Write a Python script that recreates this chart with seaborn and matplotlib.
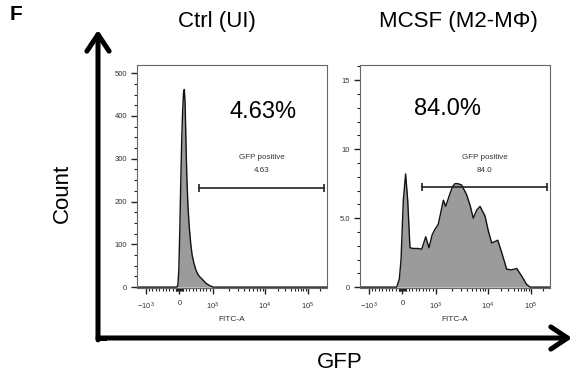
import numpy as np
import pandas as pd
import seaborn as sns
import matplotlib.pyplot as plt

sns.set_style("white")
plt.rcParams['font.family'] = ['Liberation Sans', 'DejaVu Sans']
plt.rcParams['text.color'] = 'black'
plt.rcParams['mathtext.fontset'] = 'custom'
plt.rcParams['mathtext.rm'] = 'Liberation Sans'
plt.rcParams['mathtext.it'] = 'Liberation Sans'

# FITC-A display channel (0-100 across the axis) and counts
ctrl_chan = [0, 21.0, 21.5, 22.0, 22.5, 23.0, 23.5, 24.0, 24.5, 24.9, 25.3, 25.7, 26.2,
             26.8, 27.5, 28.3, 29.0, 30.0, 31.0, 32.0, 33.0, 34.0, 35.0, 36.0, 37.0,
             38.0, 39.0, 40.0, 100]
ctrl_count = [0, 0, 5, 40, 130, 240, 340, 410, 455, 462, 430, 350, 260,
              190, 140, 100, 75, 55, 40, 30, 24, 20, 15, 10, 7,
              4, 2, 0, 0]

mcsf_chan = [0, 19.3, 20.7, 21.6, 22.8, 24.0, 25.1, 26.3, 28.1, 30.5, 32.5, 34.6,
             36.3, 38.0, 39.5, 41.2, 42.8, 43.9, 45.1, 47.4, 48.8, 50.0, 51.5, 53.5,
             55.0, 56.1, 58.0, 59.6, 61.5, 63.2, 65.8, 67.5, 69.3, 71.0, 72.5, 74.6,
             77.2, 79.8, 82.5, 85.1, 87.7, 89.5, 100]
mcsf_count = [0, 0, 0.58, 2.0, 6.3, 8.2, 6.3, 2.85, 2.8, 2.8, 2.75, 3.65,
              2.85, 3.8, 4.2, 4.55, 5.6, 6.3, 5.85, 6.8, 7.3, 7.5, 7.5, 7.4,
              7.0, 6.7, 5.9, 5.0, 5.6, 5.85, 5.15, 4.1, 3.2, 3.3, 3.4, 2.5,
              1.3, 1.25, 1.35, 0.8, 0.2, 0, 0]

titles = ["Ctrl (UI)", "MCSF (M2-M\u03a6)"]
percents = ["4.63%", "84.0%"]
gate_values = ["4.63", "84.0"]
gate_lo = [32.4, 32.8]
gate_hi = [98.6, 98.6]
gate_level = [232, 7.26]
y_max = [519, 16.1]
y_major = [[0, 100, 200, 300, 400, 500], [0, 5, 10, 15]]
y_labels = [["0", "100", "200", "300", "400", "500"], ["0", "5.0", "10", "15"]]
y_minor_step = [25, 1]

# axis anchors: fluorescence value -> display channel
x_tick_chan = [4.6, 22.3, 40.0, 67.3, 89.8]
x_tick_labels = [r"$-10^{3}$", "0", r"$10^{3}$", r"$10^{4}$", r"$10^{5}$"]


def minor_ticks():
    neg = np.linspace(x_tick_chan[0], x_tick_chan[1], 11)[1:-1]
    pos = np.linspace(x_tick_chan[1], x_tick_chan[2], 11)[1:-1]
    near0 = x_tick_chan[1] + np.array([-2, -1.5, -1, -0.5, 0.5, 1, 1.5, 2])
    lg = np.log10(np.arange(2, 10))
    d1 = x_tick_chan[2] + lg * (x_tick_chan[3] - x_tick_chan[2])
    d2 = x_tick_chan[3] + lg * (x_tick_chan[4] - x_tick_chan[3])
    d3 = x_tick_chan[4] + lg[:1] * (x_tick_chan[4] - x_tick_chan[3])
    return np.concatenate([neg, near0, pos, d1, d2, d3])


fig = plt.figure(figsize=(5.75, 3.77), dpi=100)
axes = [fig.add_axes([0.2383, 0.2361, 0.3304, 0.5915]),
        fig.add_axes([0.6261, 0.2361, 0.3304, 0.5915])]

data = [pd.DataFrame({"chan": ctrl_chan, "count": ctrl_count}),
        pd.DataFrame({"chan": mcsf_chan, "count": mcsf_count})]

for i, ax in enumerate(axes):
    df = data[i]
    ax.fill_between(df["chan"], df["count"], color="#9b9b9b", lw=0)
    sns.lineplot(data=df, x="chan", y="count", ax=ax, color="#111111", lw=1.0)
    ax.set_xlim(0, 100)
    ax.set_ylim(-0.004 * y_max[i], y_max[i])

    ax.set_xticks(x_tick_chan)
    ax.set_xticklabels(x_tick_labels)
    ax.set_xticks(minor_ticks(), minor=True)
    ax.set_yticks(y_major[i])
    ax.set_yticklabels(y_labels[i])
    ax.set_yticks(np.arange(0, y_max[i], y_minor_step[i]), minor=True)
    ax.tick_params(axis="both", which="major", direction="out", length=4, width=1,
                   labelsize=5.5, labelcolor="#333333", color="#222222",
                   bottom=True, left=True)
    ax.tick_params(axis="both", which="minor", direction="out", length=2.2, width=0.8,
                   color="#222222", bottom=True, left=True)
    ax.tick_params(axis="x", which="major", pad=5)
    ax.tick_params(axis="y", which="major", pad=3)
    for s in ax.spines.values():
        s.set_color("#666666")
        s.set_linewidth(0.8)
    ax.set_xlabel("FITC-A", fontsize=6, color="#333333", labelpad=3)
    ax.set_ylabel("")

    # gate
    ax.plot([gate_lo[i], gate_hi[i]], [gate_level[i]] * 2, color="#222222", lw=1.2)
    ax.plot([gate_lo[i], gate_hi[i]], [gate_level[i]] * 2, ls="none", marker="|",
            ms=6, mew=1.2, color="#222222")
    gx = (gate_lo[i] + gate_hi[i]) / 2
    ax.text(gx, 0.583, "GFP positive", transform=ax.get_xaxis_transform(),
            ha="center", va="center", fontsize=5.8, color="#333333")
    ax.text(gx, 0.526, gate_values[i], transform=ax.get_xaxis_transform(),
            ha="center", va="center", fontsize=5.8, color="#333333")

axes[0].text(0.663, 0.79, percents[0], transform=axes[0].transAxes,
             ha="center", va="center", fontsize=17, color="black")
axes[1].text(0.462, 0.803, percents[1], transform=axes[1].transAxes,
             ha="center", va="center", fontsize=17, color="black")

fig.text(0.377, 0.942, titles[0], ha="center", va="center", fontsize=16, color="black")
fig.text(0.797, 0.942, titles[1], ha="center", va="center", fontsize=16, color="black")
fig.text(0.028, 0.962, "F", ha="center", va="center", fontsize=15, fontweight="bold",
         color="black")
fig.text(0.108, 0.488, "Count", ha="center", va="center", fontsize=16, rotation=90,
         color="black")
fig.text(0.591, 0.038, "GFP", ha="center", va="center", fontsize=16, color="black")

# big axis arrows
x0, y0 = 98 / 575, 1 - 338 / 377
arrow = dict(arrowstyle="->,head_length=0.6,head_width=0.4", lw=3.6, color="black",
             mutation_scale=20, shrinkA=0, shrinkB=0)
fig.add_artist(plt.Line2D([x0, x0 + 0.01], [y0, y0], lw=3.6, color="black",
                          solid_capstyle="projecting", transform=fig.transFigure))
plt.annotate("", xy=(x0, 1 - 30 / 377), xytext=(x0, y0 - 0.005),
             xycoords="figure fraction", arrowprops=arrow)
plt.annotate("", xy=(572 / 575, y0), xytext=(x0, y0),
             xycoords="figure fraction", arrowprops=arrow)

plt.savefig("out.png", dpi=100)
